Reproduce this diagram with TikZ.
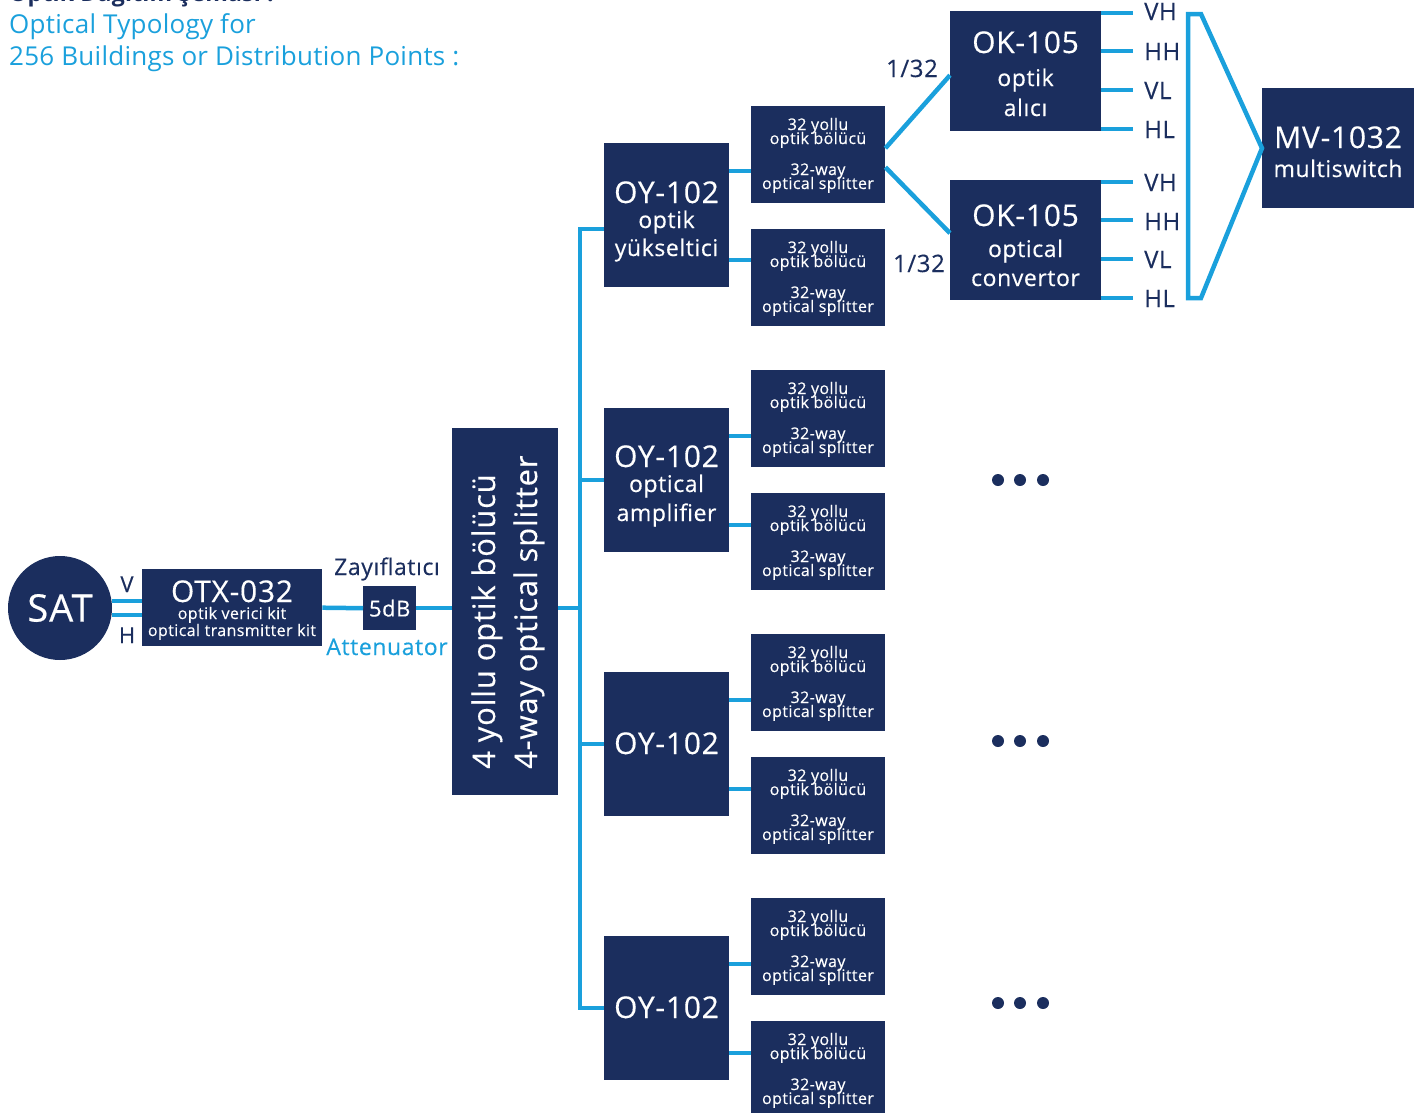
\documentclass[tikz,border=0pt]{standalone}
\usepackage{fontspec}
\setmainfont{Open Sans}[LetterSpace=2.5, FakeBold=0.35]
\newfontfamily\regf{Open Sans}[LetterSpace=1]
\definecolor{navy}{HTML}{1B2E5E}
\definecolor{sky}{HTML}{1AA0DC}
\newcommand\myfs[1]{\fontsize{#1pt}{#1pt}\selectfont}
\begin{document}
\begin{tikzpicture}[x=1pt,y=-1pt,
 box/.style={fill=navy, inner sep=0pt, anchor=north west},
 wt/.style={text=white, inner sep=0pt, anchor=base},
 dt/.style={text=navy, inner sep=0pt, anchor=base},
 bt/.style={text=sky, inner sep=0pt, anchor=base},
 line/.style={draw=sky, line width=4.5pt, line join=miter},
 oybox/.style={box, minimum width=125pt, minimum height=144pt},
 spbox/.style={box, minimum width=134pt, minimum height=97pt},
 okbox/.style={box, minimum width=151pt, minimum height=120pt},
 sptext/.style={wt, font=\myfs{16}},
 big/.style={font=\myfs{30}},
 mid/.style={font=\myfs{23}},
]
\useasboundingbox (0,0) rectangle (1425,1112);

% titles
\node[dt, anchor=base west, font=\regf\bfseries\myfs{23}] (t0) at (9,1) {Optik Dağıtım Şeması :};
\node[bt, anchor=base west, font=\regf\myfs{26}] (t1) at (9,33) {Optical Typology for};
\node[bt, anchor=base west, font=\regf\myfs{26}] (t2) at (9,65) {256 Buildings or Distribution Points :};

% SAT
\node[circle, fill=navy, minimum size=104pt, inner sep=0pt, text=white, font=\myfs{38}] (sat) at (60,608) {SAT};
\node[dt, font=\myfs{22}] (vlab) at (127,592) {V};
\node[dt, font=\myfs{22}] (hlab) at (127,643) {H};

% OTX
\node[box, minimum width=180pt, minimum height=77pt] (otx) at (142,569) {};
\node[wt, big] (otxa) at (232,602) {OTX-032};
\node[wt, font=\myfs{16}] (otxb) at (232,619) {optik verici kit};
\node[wt, font=\myfs{16}] (otxc) at (232,636) {optical transmitter kit};

% attenuator
\node[box, minimum width=53pt, minimum height=44pt, text=white, font=\myfs{22}] (att) at (363,586) {5dB};
\node[dt, mid] (zay) at (387,575) {Zayıflatıcı};
\node[bt, mid] (attn) at (387,655) {Attenuator};

% 4-way splitter
\node[box, minimum width=106pt, minimum height=367pt] (sp4) at (452,428) {};
\node[wt, anchor=base west, rotate=90, font=\myfs{31}] (sp4a) at (495,769) {4 yollu optik bölücü};
\node[wt, anchor=base west, rotate=90, font=\myfs{31}] (sp4b) at (537,769) {4-way optical splitter};

% OY boxes
\node[oybox] (oy1) at (604,143) {};
\node[oybox] (oy2) at (604,408) {};
\node[oybox] (oy3) at (604,672) {};
\node[oybox] (oy4) at (604,936) {};
\node[wt, big] (oy1a) at (666.5,203) {OY-102};
\node[wt, mid] (oy1b) at (666.5,228) {optik};
\node[wt, mid] (oy1c) at (666.5,256) {yükseltici};
\node[wt, big] (oy2a) at (666.5,467) {OY-102};
\node[wt, mid] (oy2b) at (666.5,492) {optical};
\node[wt, mid] (oy2c) at (666.5,521) {amplifier};
\node[wt, big] (oy3a) at (666.5,754) {OY-102};
\node[wt, big] (oy4a) at (666.5,1018) {OY-102};

% 32-way splitters
\foreach \n/\t in {1/106,2/229,3/370,4/493,5/634,6/757,7/898,8/1021}{
  \node[spbox] (s\n) at (751,\t) {};
  \node[sptext] (s\n a) at (818,\t+24) {32 yollu};
  \node[sptext] (s\n b) at (818,\t+38) {optik bölücü};
  \node[sptext] (s\n c) at (818,\t+69) {32-way};
  \node[sptext] (s\n d) at (818,\t+83) {optical splitter};
}

% OK boxes
\node[okbox] (ok1) at (950,11) {};
\node[wt, big] (ok1a) at (1025.5,53) {OK-105};
\node[wt, mid] (ok1b) at (1025.5,86) {optik};
\node[wt, mid] (ok1c) at (1025.5,116) {alıcı};
\node[okbox] (ok2) at (950,180) {};
\node[wt, big] (ok2a) at (1025.5,226) {OK-105};
\node[wt, mid] (ok2b) at (1025.5,257) {optical};
\node[wt, mid] (ok2c) at (1025.5,286) {convertor};

% MV box
\node[box, minimum width=152pt, minimum height=120pt] (mv) at (1262,88) {};
\node[wt, big] (mva) at (1338,148) {MV-1032};
\node[wt, mid] (mvb) at (1338,177) {multiswitch};

% 1/32 labels
\node[dt, font=\myfs{24}] (r1) at (912,77) {1/32};
\node[dt, font=\myfs{24}] (r2) at (919,272) {1/32};

% output labels
\foreach \n/\l/\b in {1/VH/20,2/HH/60,3/VL/99,4/HL/138,5/VH/191,6/HH/230,7/VL/268,8/HL/307}{
  \node[dt, anchor=base west, font=\myfs{24}] (o\n) at (1144,\b) {\l};
}

% connectors
\draw[line] ([yshift=7pt]sat.east) -- ([yshift=7pt]sat.east -| otx.west);
\draw[line] ([yshift=-7pt]sat.east) -- ([yshift=-7pt]sat.east -| otx.west);
\draw[line] (otx.east) -- (att.west);
\draw[line] (att.east) -- (att.east -| sp4.west);
\coordinate (bj) at (580,608);
\coordinate (btop) at (580,229);
\coordinate (bbot) at (580,1008);
\draw[line] (bj -| sp4.east) -- (bj);
\draw[line] (btop -| oy1.west) -- (btop) -- (bbot) -- (bbot -| oy4.west);
\draw[line] (oy2.west) -- (oy2.west -| btop);
\draw[line] (oy3.west) -- (oy3.west -| btop);

\foreach \o/\a/\b in {1/1/2,2/3/4,3/5/6,4/7/8}{
  \draw[line] ([yshift=-28pt]oy\o.north east) -- ([yshift=-28pt]oy\o.north east -| s\a.west);
  \draw[line] ([yshift=-117pt]oy\o.north east) -- ([yshift=-117pt]oy\o.north east -| s\b.west);
}

\draw[line] ([yshift=6.5pt]s1.east) -- ([yshift=-4pt]ok1.west);
\draw[line] ([yshift=-12.5pt]s1.east) -- ([yshift=7pt]ok2.west);

\foreach \d/\n in {2/1,40/2,79/3,118/4}{
  \draw[line, shorten >=11pt] ([yshift=-\d pt]ok1.north east) -- ([yshift=-\d pt]ok1.north east -| o\n.west);
}
\foreach \d/\n in {2/5,40/6,79/7,118/8}{
  \draw[line, shorten >=11pt] ([yshift=-\d pt]ok2.north east) -- ([yshift=-\d pt]ok2.north east -| o\n.west);
}
\coordinate (brt) at (1188,14);
\coordinate (brb) at (1188,298);
\draw[line] (brt) -- ++(13,0) -- (mv.west) -- (1201,298) -- (brb) -- cycle;

% dots
\foreach \y in {480,741,1003}{
  \foreach \x in {998,1020,1043}{
    \fill[navy] (\x,\y) circle (6pt);
  }
}
\end{tikzpicture}
\end{document}
